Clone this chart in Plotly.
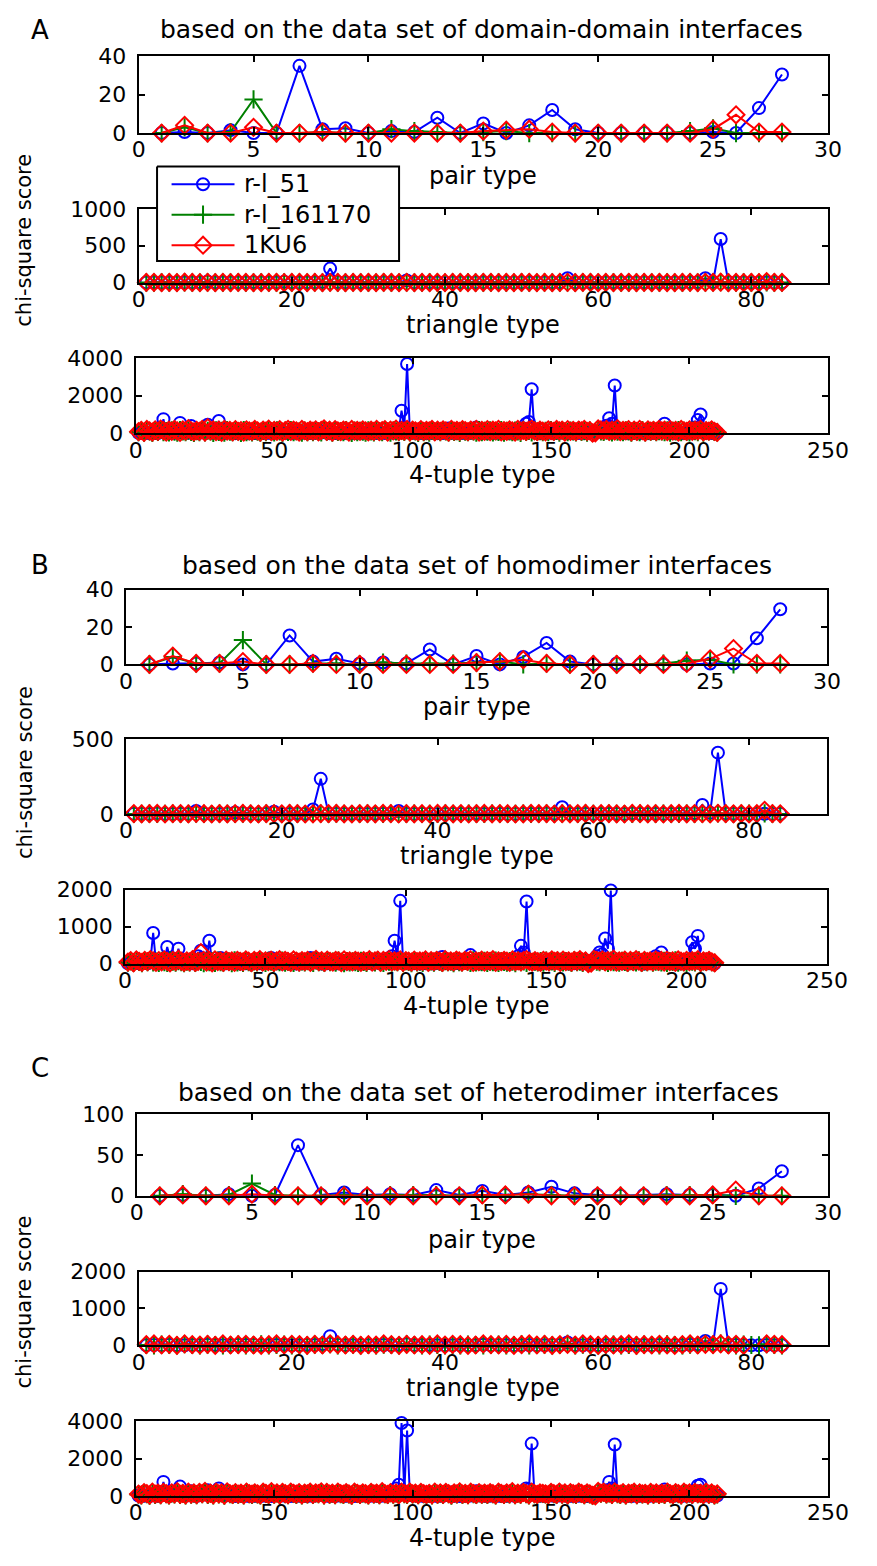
import plotly.graph_objects as go

W, H = 877, 1566

# ---------------- data ----------------
series_names = ["r-l_51", "r-l_161170", "1KU6"]
panel_letters = ["A", "B", "C"]
panel_titles = ["based on the data set of domain-domain interfaces",
                "based on the data set of homodimer interfaces",
                "based on the data set of heterodimer interfaces"]
xlabels = ["pair type", "triangle type", "4-tuple type"]
ytitle = "chi-square score"

pair_x = list(range(1, 29))
tri_x = list(range(1, 85))
quad_x = list(range(1, 211))

pair_xticks = [0, 5, 10, 15, 20, 25, 30]
tri_xticks = [0, 20, 40, 60, 80]
quad_xticks = [0, 50, 100, 150, 200, 250]

# pair type (28)
pair_blue_A = [0, 0.5, 0, 1.5, 0, 0, 35, 2, 2.5, 0, 1, 0.5, 8, 0, 5, 0, 4, 12, 2, 0, 0, 0, 0, 0, 0.5, 0, 13, 30.5]
pair_green_A = [0, 3, 0, 0.5, 17.5, 0, 0, 0.5, 0, 0, 2, 1, 0.5, 0, 0.5, 1, 0, 0, 0, 0, 0, 0, 0, 1, 2.5, 0, 0, 0]
pair_red_A = [0, 4, 0, 0, 3, 0, 0, 0.5, 0, 0, 0, 0, 0, 0, 1, 1.5, 2, 0.5, 0, 0, 0, 0, 0, 0, 2, 9.5, 0.5, 0.5]

pair_blue_B = [0, 0.5, 0.5, 1, 0, 0, 15.5, 1.5, 3, 0.5, 1, 0.5, 8, 0, 4.5, 0, 4, 11.5, 1.5, 0, 0.5, 0, 0, 0, 0.5, 0.5, 14, 29.5]
pair_green_B = [0, 4, 0.5, 0.5, 13, 0, 0, 0.5, 0.5, 0, 1, 0.5, 0.5, 0.5, 1, 1.5, 0, 0.5, 0, 0, 0, 0, 0.5, 2, 2.5, 0, 0, 0]
pair_red_B = [0, 4.5, 0.5, 0.5, 1.5, 0, 0, 0.5, 0, 0, 0, 0, 0, 0, 1, 1.5, 2.5, 0.5, 0, 0, 0, 0, 0, 0.5, 3, 8.5, 0.5, 0.5]

pair_blue_C = [0, 1, 0, 2, 0, 1, 62, 1, 4, 1, 2, 1, 7, 1, 6, 1, 4, 11, 3, 1, 0, 1, 2, 1, 1, 0, 9, 30]
pair_green_C = [0, 2, 0, 1, 15, 1, 0, 0, 1, 0, 1, 1, 1, 0, 1, 1, 2, 1, 0, 0, 0, 0, 1, 1, 1, 0, 0, 0]
pair_red_C = [0, 1, 0, 0, 2, 0, 0, 0, 0, 0, 0, 0, 0, 0, 1, 1, 2, 0, 0, 0, 0, 0, 0, 0, 1, 7, 0, 0]

# triangle type (84)
tri_blue_A = [2, 1, 0, 3, 1, 0, 2, 1, 15, 2, 1, 0, 3, 2, 5, 1, 0, 2, 12, 1,
              0, 3, 2, 8, 190, 4, 1, 0, 2, 1, 0, 2, 1, 3, 30, 1, 0, 2, 1, 0,
              1, 2, 0, 1, 3, 0, 2, 1, 0, 1, 2, 0, 1, 3, 2, 60, 1, 0, 2, 1,
              0, 1, 2, 0, 3, 1, 0, 2, 1, 0, 1, 3, 5, 60, 8, 590, 4, 2, 1, 0,
              1, 2, 0, 1]
tri_green_A = [1, 0, 2, 1, 0, 3, 1, 0, 2, 1, 0, 1, 2, 0, 1, 3, 0, 1, 2, 0,
               1, 0, 2, 1, 3, 0, 1, 2, 0, 1, 0, 2, 1, 0, 3, 1, 0, 2, 1, 0,
               1, 0, 2, 1, 0, 1, 2, 0, 1, 3, 0, 1, 2, 0, 1, 4, 0, 2, 1, 0,
               1, 2, 0, 1, 0, 2, 1, 0, 3, 1, 0, 2, 1, 4, 2, 5, 1, 0, 2, 1,
               0, 3, 1, 0]
tri_red_A = [2, 4, 1, 3, 0, 5, 2, 1, 3, 0, 4, 1, 2, 3, 1, 0, 2, 4, 1, 3,
             2, 0, 3, 1, 4, 2, 1, 3, 0, 2, 1, 4, 2, 0, 3, 1, 2, 0, 4, 1,
             3, 2, 0, 1, 4, 2, 1, 3, 0, 2, 4, 1, 3, 0, 2, 3, 1, 4, 2, 0,
             3, 1, 2, 4, 0, 2, 1, 3, 1, 0, 2, 4, 1, 3, 2, 5, 1, 3, 0, 2,
             1, 15, 4, 2]

tri_blue_B = [1, 2, 0, 3, 1, 0, 2, 1, 20, 2, 1, 0, 3, 10, 5, 1, 0, 2, 15, 1,
              0, 3, 2, 30, 235, 4, 1, 0, 2, 1, 0, 2, 1, 3, 20, 1, 0, 2, 1, 0,
              1, 2, 0, 1, 3, 0, 2, 1, 0, 1, 2, 0, 1, 3, 2, 45, 1, 0, 2, 1,
              0, 1, 2, 0, 3, 1, 0, 2, 1, 0, 1, 3, 5, 60, 8, 410, 4, 2, 1, 0,
              1, 2, 0, 1]
tri_green_B = [0, 1, 2, 0, 1, 3, 0, 1, 2, 1, 0, 2, 1, 0, 3, 1, 0, 2, 1, 0,
               2, 1, 0, 1, 3, 0, 2, 1, 0, 1, 2, 0, 1, 3, 0, 1, 2, 0, 1, 0,
               2, 1, 0, 3, 1, 0, 2, 1, 0, 1, 3, 0, 1, 2, 0, 3, 1, 0, 2, 1,
               0, 2, 1, 0, 1, 3, 0, 1, 2, 0, 1, 2, 0, 3, 1, 4, 2, 0, 1, 2,
               0, 4, 1, 0]
tri_red_B = [3, 1, 2, 4, 0, 2, 3, 1, 4, 2, 0, 3, 1, 2, 4, 1, 0, 3, 2, 1,
             4, 2, 0, 1, 3, 2, 4, 1, 0, 2, 3, 1, 4, 2, 0, 3, 1, 2, 0, 4,
             2, 1, 3, 0, 2, 4, 1, 3, 2, 0, 1, 4, 2, 3, 0, 2, 1, 3, 4, 0,
             2, 3, 1, 0, 4, 2, 1, 3, 0, 2, 4, 1, 3, 2, 0, 5, 2, 1, 3, 0,
             2, 25, 3, 1]

tri_blue_C = [5, 10, 0, 15, 5, 0, 10, 5, 20, 10, 5, 0, 15, 10, 20, 5, 0, 10, 15, 5,
              0, 15, 10, 30, 250, 20, 5, 0, 10, 5, 0, 10, 5, 15, 30, 5, 0, 10, 5, 0,
              5, 10, 0, 5, 15, 0, 10, 5, 0, 5, 10, 0, 5, 15, 10, 80, 5, 0, 10, 5,
              0, 5, 10, 0, 15, 5, 0, 10, 5, 0, 5, 15, 25, 120, 30, 1530, 20, 10, 5, 0,
              5, 10, 0, 5]
tri_green_C = [10, 0, 20, 10, 0, 30, 10, 0, 20, 10, 0, 10, 20, 0, 10, 30, 0, 10, 20, 0,
               10, 0, 20, 10, 30, 0, 10, 20, 0, 10, 0, 20, 10, 0, 30, 10, 0, 20, 10, 0,
               10, 0, 20, 10, 0, 10, 20, 0, 10, 30, 0, 10, 20, 0, 10, 40, 0, 20, 10, 0,
               10, 20, 0, 10, 0, 20, 10, 0, 30, 10, 0, 20, 10, 40, 20, 50, 10, 0, 20, 10,
               0, 30, 10, 0]
tri_red_C = [20, 40, 10, 30, 0, 40, 20, 10, 30, 0, 40, 10, 20, 30, 10, 0, 20, 40, 10, 30,
             20, 0, 30, 10, 40, 20, 10, 30, 0, 20, 10, 40, 20, 0, 30, 10, 20, 0, 40, 10,
             30, 20, 0, 10, 40, 20, 10, 30, 0, 20, 40, 10, 30, 0, 20, 30, 10, 40, 20, 0,
             30, 10, 20, 40, 0, 20, 10, 30, 10, 0, 20, 40, 10, 30, 20, 40, 10, 30, 0, None,
             None, 40, 30, 20]

# 4-tuple type (210)
quad_blue_A = [20, 40, 10, 30, 0, 50, 20, 10, 60, 750, 30, 10, 40, 20, 80, 550, 30, 60, 20, 380, 40,
               10, 30, 50, 120, 450, 60, 20, 90, 650, 40, 10, 30, 100, 20, 0, 30, 10, 40, 20, 0, 30,
               10, 20, 0, 40, 10, 30, 0, 20, 40, 100, 20, 10, 30, 0, 20, 40, 10, 60, 20, 0, 30,
               10, 40, 150, 30, 100, 20, 0, 30, 10, 20, 40, 0, 20, 10, 30, 0, 20, 10, 40, 20, 0,
               30, 10, 20, 0, 40, 10, 30, 60, 20, 80, 150, 1200, 300, 3700, 60, 20, 40, 10, 30, 0, 20,
               10, 40, 20, 0, 30, 10, 60, 250, 40, 10, 20, 0, 30, 10, 40, 20, 80, 300, 30, 10, 20,
               0, 30, 10, 40, 20, 0, 30, 10, 20, 40, 10, 60, 150, 250, 500, 600, 2350, 80, 20, 10, 30,
               0, 20, 40, 10, 30, 20, 100, 30, 10, 20, 0, 40, 10, 30, 20, 0, 40, 60, 20, 80, 150,
               250, 400, 800, 500, 2550, 60, 20, 40, 10, 30, 0, 20, 40, 10, 30, 20, 0, 40, 10, 60, 150,
               200, 500, 80, 30, 10, 40, 20, 0, 30, 10, 40, 20, 300, 700, 1000, 60, 20, 40, 10, 30, 20]
quad_green_A = [50, 120, 30, 160, 90, 20, 140, 70, 180, 60, 110, 40, 150, 80, 30, 170, 100, 50, 130, 70, 20,
                110, 60, 170, 40, 130, 90, 20, 150, 70, 120, 30, 160, 80, 50, 140, 100, 20, 170, 60, 110, 40,
                140, 80, 30, 120, 60, 170, 90, 40, 150, 100, 20, 130, 70, 160, 50, 110, 80, 30, 140, 60, 120,
                60, 130, 100, 40, 170, 80, 120, 30, 150, 70, 110, 50, 160, 90, 20, 140, 60, 120, 80, 30, 150,
                90, 40, 150, 110, 60, 170, 80, 30, 140, 100, 50, 120, 70, 160, 40, 130, 90, 20, 150, 60, 110,
                30, 140, 80, 120, 50, 160, 90, 40, 130, 70, 110, 20, 150, 80, 60, 140, 100, 30, 170, 60, 120,
                80, 150, 40, 110, 70, 160, 30, 130, 90, 50, 140, 100, 20, 160, 70, 120, 40, 150, 80, 110, 60,
                130, 50, 160, 80, 120, 30, 150, 90, 60, 140, 100, 40, 170, 70, 110, 30, 140, 20, 60, 180, 100,
                70, 140, 110, 40, 160, 80, 120, 50, 150, 90, 30, 130, 100, 60, 170, 40, 120, 80, 140, 50, 110,
                100, 60, 150, 30, 130, 90, 170, 50, 120, 80, 40, 140, 110, 60, 160, 30, 120, 90, 150, 70, 40]
quad_red_A = [80, 150, 40, 200, 120, 60, 180, 100, 220, 140, 60, 160, 90, 200, 120, 40, 180, 110, 250, 130, 70,
              150, 90, 210, 60, 300, 120, 180, 80, 160, 40, 200, 110, 150, 70, 190, 100, 140, 60, 180, 120, 90,
              200, 130, 50, 170, 110, 220, 80, 150, 100, 190, 60, 140, 210, 90, 170, 120, 60, 200, 130, 80, 160,
              110, 180, 70, 150, 230, 100, 160, 60, 190, 120, 80, 170, 140, 50, 200, 110, 150, 90, 180, 130, 70,
              160, 100, 210, 80, 140, 190, 60, 170, 120, 220, 90, 150, 110, 200, 70, 160, 130, 80, 190, 100, 150,
              120, 200, 70, 160, 100, 180, 130, 60, 210, 110, 150, 90, 190, 140, 80, 170, 120, 200, 60, 150, 100,
              190, 80, 160, 120, 210, 70, 140, 100, 180, 130, 60, 200, 110, 150, 90, 170, 220, 120, 80, 160, 110,
              70, 180, 130, 90, 200, 120, 160, 60, 190, 100, 150, 80, 170, 120, 210, 90, 140, 0, 20, 230, 180,
              130, 200, 90, 160, 110, 240, 80, 150, 120, 190, 70, 170, 100, 210, 130, 60, 180, 110, 150, 90, 200,
              120, 170, 80, 190, 110, 150, 60, 200, 130, 90, 180, 100, 160, 120, 210, 70, 140, 110, 180, 90, 40]

quad_blue_B = [10, 30, 50, 20, 10, 40, 20, 10, 60, 830, 40, 20, 30, 80, 450, 150, 40, 120, 400, 60, 30,
               20, 40, 10, 80, 200, 350, 60, 120, 620, 50, 20, 40, 150, 30, 10, 20, 40, 10, 30, 0, 20,
               10, 30, 0, 20, 40, 10, 30, 20, 60, 150, 30, 10, 20, 0, 30, 10, 40, 20, 0, 30, 10,
               20, 60, 150, 40, 120, 20, 0, 30, 10, 20, 40, 0, 30, 10, 20, 0, 40, 10, 20, 30, 0,
               20, 10, 30, 0, 20, 40, 10, 30, 100, 60, 200, 620, 150, 1700, 60, 20, 30, 50, 10, 20, 0,
               30, 10, 20, 40, 0, 20, 60, 180, 30, 10, 20, 0, 40, 10, 30, 20, 80, 230, 40, 10, 20,
               0, 30, 10, 20, 40, 0, 20, 10, 30, 20, 0, 60, 100, 200, 480, 300, 1680, 60, 20, 10, 30,
               0, 20, 30, 10, 20, 40, 100, 20, 10, 30, 0, 20, 10, 40, 20, 0, 30, 60, 20, 100, 200,
               300, 250, 680, 400, 1980, 60, 20, 30, 10, 20, 0, 30, 10, 20, 40, 10, 0, 30, 60, 100, 200,
               150, 300, 60, 20, 10, 30, 20, 0, 40, 10, 20, 100, 580, 400, 750, 60, 20, 30, 10, 20, 0]
quad_green_B = [25, 60, 15, 80, 45, 10, 70, 35, 90, 30, 55, 20, 75, 40, 15, 85, 50, 25, 65, 35, 10,
                55, 30, 85, 20, 65, 45, 10, 75, 35, 60, 15, 80, 40, 25, 70, 50, 10, 85, 30, 55, 20,
                70, 40, 15, 60, 30, 85, 45, 20, 75, 50, 10, 65, 35, 80, 25, 55, 40, 15, 70, 30, 60,
                30, 65, 50, 20, 85, 40, 60, 15, 75, 35, 55, 25, 80, 45, 10, 70, 30, 60, 40, 15, 75,
                45, 20, 75, 55, 30, 85, 40, 15, 70, 50, 25, 60, 35, 80, 20, 65, 45, 10, 75, 30, 55,
                15, 70, 40, 60, 25, 80, 45, 20, 65, 35, 55, 10, 75, 40, 30, 70, 50, 15, 85, 30, 60,
                40, 75, 20, 55, 35, 80, 15, 65, 45, 25, 70, 50, 10, 80, 35, 60, 20, 75, 40, 55, 30,
                65, 25, 80, 40, 60, 15, 75, 45, 30, 70, 50, 20, 85, 35, 55, 15, 70, 10, 30, 90, 50,
                35, 70, 55, 20, 80, 40, 60, 25, 75, 45, 15, 65, 50, 30, 85, 20, 60, 40, 70, 25, 55,
                50, 30, 75, 15, 65, 45, 85, 25, 60, 40, 20, 70, 55, 30, 80, 15, 60, 45, 75, 35, 20]
quad_red_B = [40, 80, 20, 100, 60, 30, 90, 50, 110, 70, 30, 80, 45, 100, 60, 20, 90, 55, 120, 65, 35,
              75, 45, 105, 30, 60, 300, 90, 40, 80, 20, 100, 55, 75, 35, 95, 50, 70, 30, 90, 60, 45,
              100, 65, 25, 85, 55, 110, 40, 75, 50, 95, 30, 70, 105, 45, 85, 60, 30, 100, 65, 40, 80,
              55, 90, 35, 75, 115, 50, 80, 30, 95, 60, 40, 85, 70, 25, 100, 55, 75, 45, 90, 65, 35,
              80, 50, 105, 40, 70, 95, 30, 85, 60, 110, 45, 75, 55, 100, 35, 80, 65, 40, 95, 50, 75,
              60, 100, 35, 80, 50, 90, 65, 30, 105, 55, 75, 45, 95, 70, 40, 85, 60, 100, 30, 75, 50,
              95, 40, 80, 60, 105, 35, 70, 50, 90, 65, 30, 100, 55, 75, 45, 85, 110, 60, 40, 80, 55,
              35, 90, 65, 45, 100, 60, 80, 30, 95, 50, 75, 40, 85, 60, 105, 45, 70, 0, 10, 115, 90,
              65, 100, 45, 80, 55, 120, 40, 75, 60, 95, 35, 85, 50, 105, 65, 30, 90, 55, 75, 45, 100,
              60, 85, 40, 95, 55, 75, 30, 100, 65, 45, 90, 50, 80, 60, 105, 35, 70, 55, 90, 45, 20]

quad_blue_C = [20, 40, 10, 30, 0, 60, 20, 10, 80, 750, 40, 10, 30, 60, 150, 500, 40, 80, 30, 250, 20,
               10, 30, 60, 100, 300, 80, 40, 120, 400, 60, 20, 40, 80, 20, 0, 30, 10, 40, 20, 0, 30,
               10, 20, 0, 40, 10, 30, 0, 20, 60, 200, 40, 10, 30, 0, 20, 40, 10, 100, 20, 0, 30,
               10, 40, 150, 60, 150, 20, 0, 30, 10, 20, 40, 0, 20, 10, 30, 0, 20, 10, 40, 20, 0,
               30, 10, 20, 0, 40, 10, 30, 60, 150, 400, 600, 3900, 200, 3500, 80, 20, 40, 10, 30, 0, 20,
               10, 40, 20, 0, 30, 10, 60, 200, 40, 10, 20, 0, 30, 10, 40, 20, 80, 250, 30, 10, 20,
               0, 30, 10, 40, 20, 0, 30, 10, 20, 40, 10, 60, 100, 200, 400, 350, 2800, 80, 20, 10, 30,
               0, 20, 40, 10, 30, 20, 60, 30, 10, 20, 0, 40, 10, 30, 20, 0, 40, 60, 20, 80, 150,
               200, 300, 750, 400, 2750, 60, 20, 40, 10, 30, 0, 20, 40, 10, 30, 20, 0, 40, 10, 60, 100,
               150, 350, 80, 30, 10, 40, 20, 0, 30, 10, 40, 20, 200, 550, 600, 60, 20, 40, 10, 30, 20]
quad_green_C = [70, 30, 150, 100, 20, 170, 60, 130, 40, 160, 90, 30, 140, 80, 190, 50, 120, 30, 170, 70, 130,
                40, 160, 90, 200, 60, 120, 30, 170, 80, 140, 20, 180, 100, 50, 150, 70, 120, 30, 180, 90, 60,
                140, 80, 30, 170, 110, 50, 190, 70, 130, 20, 160, 90, 40, 180, 110, 60, 150, 30, 120, 80, 170,
                50, 130, 90, 180, 30, 160, 70, 120, 40, 180, 100, 60, 150, 80, 20, 170, 110, 50, 140, 90, 30,
                160, 80, 120, 40, 190, 90, 50, 150, 70, 130, 30, 170, 100, 60, 180, 80, 120, 40, 160, 90, 50,
                110, 30, 180, 70, 140, 50, 160, 90, 20, 130, 80, 190, 60, 110, 40, 170, 100, 50, 150, 70, 120,
                60, 150, 90, 30, 170, 110, 50, 140, 80, 190, 40, 120, 70, 160, 100, 30, 180, 90, 50, 130, 110,
                80, 40, 160, 100, 50, 180, 70, 130, 30, 150, 90, 60, 170, 110, 40, 140, 80, 20, 60, 200, 120,
                170, 80, 130, 50, 190, 100, 60, 150, 30, 120, 90, 170, 40, 140, 80, 110, 30, 160, 70, 130, 50,
                120, 60, 180, 90, 40, 150, 100, 30, 170, 80, 130, 50, 160, 90, 110, 40, 180, 70, 130, 30, 80]
quad_red_C = [100, 60, 180, 130, 40, 210, 90, 150, 70, 190, 120, 50, 170, 110, 230, 80, 140, 60, 200, 100, 160,
              70, 190, 120, 250, 90, 150, 60, 200, 110, 170, 40, 220, 130, 80, 180, 100, 150, 60, 210, 120, 90,
              170, 110, 60, 200, 140, 80, 230, 100, 160, 50, 190, 120, 70, 210, 140, 90, 180, 60, 150, 110, 200,
              80, 160, 120, 220, 60, 190, 100, 150, 70, 210, 130, 90, 180, 110, 40, 200, 140, 80, 170, 120, 60,
              190, 110, 150, 70, 230, 120, 80, 180, 100, 160, 60, 200, 130, 90, 210, 110, 150, 70, 190, 120, 80,
              140, 60, 210, 100, 170, 80, 190, 120, 50, 160, 110, 220, 90, 140, 70, 200, 130, 80, 180, 100, 150,
              90, 180, 120, 60, 200, 140, 80, 170, 110, 230, 70, 150, 100, 190, 130, 60, 210, 120, 80, 160, 140,
              110, 70, 190, 130, 80, 210, 100, 160, 60, 180, 120, 90, 200, 140, 70, 170, 110, 30, 0, 240, 150,
              200, 110, 160, 80, 220, 130, 90, 180, 60, 150, 120, 200, 70, 170, 110, 140, 60, 190, 100, 160, 80,
              150, 90, 210, 120, 70, 180, 130, 60, 200, 110, 160, 80, 190, 120, 140, 70, 210, 100, 160, 60, 110]

# ---------------- layout geometry (pixels) ----------------
FONT = "DejaVu Sans"
BLUE, GREEN, RED = "#0000ff", "#008000", "#ff0000"
colors = [BLUE, GREEN, RED]

# (left, right, top, bottom) of each plot box
boxes = [
    [(136, 848, 45, 123), (136, 848, 200, 275), (133, 848, 352, 428)],
    [(123, 847, 587, 663), (123, 847, 739, 815), (122, 847, 892, 967)],
    [(134, 848, 1120, 1203), (136, 848, 1280, 1355), (133, 848, 1432, 1508)],
]
yranges = [
    [([0, 40], [0, 20, 40]), ([0, 1000], [0, 500, 1000]), ([0, 4000], [0, 2000, 4000])],
    [([0, 40], [0, 20, 40]), ([0, 500], [0, 500]), ([0, 2000], [0, 1000, 2000])],
    [([0, 100], [0, 50, 100]), ([0, 2000], [0, 1000, 2000]), ([0, 4000], [0, 2000, 4000])],
]
xspecs = [(pair_x, [0, 30], pair_xticks), (tri_x, [0, 90], tri_xticks), (quad_x, [0, 250], quad_xticks)]

data = [
    [(pair_blue_A, pair_green_A, pair_red_A), (tri_blue_A, tri_green_A, tri_red_A), (quad_blue_A, quad_green_A, quad_red_A)],
    [(pair_blue_B, pair_green_B, pair_red_B), (tri_blue_B, tri_green_B, tri_red_B), (quad_blue_B, quad_green_B, quad_red_B)],
    [(pair_blue_C, pair_green_C, pair_red_C), (tri_blue_C, tri_green_C, tri_red_C), (quad_blue_C, quad_green_C, quad_red_C)],
]

label_y = [[167, 318, 471], [706, 858, 1010], [1248, 1398, 1551]]
title_y = [18, 562, 1098]
title_x = [490, 485, 487]
letter_y = [18, 562, 1073]
ytitle_y = [232, 773, 1311]

# hand-drawn legend box geometry (px)
leg_left, leg_top, leg_right, leg_bottom = 155, 157, 405, 253
leg_rows = [175, 206, 237]
leg_line = (170, 235)
leg_text_x = 243

fig = go.Figure()
tick_font = dict(family=FONT, size=22, color="black")
label_font = dict(family=FONT, size=24, color="black")

def marker_style(k, size_scale=1.0):
    base = [
        dict(symbol="circle-open", size=12),
        dict(symbol="cross-thin-open", size=13),
        dict(symbol="diamond-open", size=13),
    ][k]
    return dict(symbol=base["symbol"], size=base["size"] * size_scale, color=colors[k],
                line=dict(width=2, color=colors[k]))

annotations = []
idx = 0
for p in range(3):
    for s in range(3):
        idx += 1
        xname = "x" if idx == 1 else f"x{idx}"
        yname = "y" if idx == 1 else f"y{idx}"
        l, r, t, b = boxes[p][s]
        xs, xr, xt = xspecs[s]
        yr, yt = yranges[p][s]
        common = dict(showline=True, linecolor="black", linewidth=2, mirror="ticks",
                      ticks="inside", ticklen=6, tickwidth=2, tickcolor="black",
                      showgrid=False, zeroline=False, tickfont=tick_font, fixedrange=True)
        fig.layout["xaxis" if idx == 1 else f"xaxis{idx}"] = dict(
            domain=[l / W, r / W], anchor=yname, range=xr, tickvals=xt,
            ticklabelstandoff=-4, **common)
        fig.layout["yaxis" if idx == 1 else f"yaxis{idx}"] = dict(
            domain=[1 - b / H, 1 - t / H], anchor=xname, range=yr, tickvals=yt,
            ticklabelstandoff=6, **common)
        for k in range(3):
            fig.add_trace(go.Scatter(
                x=xs, y=data[p][s][k], mode="lines+markers", name=series_names[k],
                line=dict(color=colors[k], width=2), marker=marker_style(k),
                xaxis=xname, yaxis=yname, cliponaxis=False, connectgaps=False,
                showlegend=False, hoverinfo="skip"))
        annotations.append(dict(text=xlabels[s], x=(l + r) / 2 / W, y=1 - label_y[p][s] / H,
                                xref="paper", yref="paper", showarrow=False,
                                font=label_font, xanchor="center", yanchor="middle"))
    annotations.append(dict(text=panel_titles[p], x=title_x[p] / W, y=1 - title_y[p] / H,
                            xref="paper", yref="paper", showarrow=False,
                            font=dict(family=FONT, size=25, color="black"),
                            xanchor="center", yanchor="middle"))
    annotations.append(dict(text=panel_letters[p], x=34 / W, y=1 - letter_y[p] / H,
                            xref="paper", yref="paper", showarrow=False,
                            font=dict(family=FONT, size=26, color="black"),
                            xanchor="center", yanchor="middle"))
    annotations.append(dict(text=ytitle, x=18 / W, y=1 - ytitle_y[p] / H,
                            xref="paper", yref="paper", showarrow=False, textangle=-90,
                            font=dict(family=FONT, size=21, color="black"),
                            xanchor="center", yanchor="middle"))

# ---- legend (drawn on a page-sized hidden overlay axis, on top of panel A) ----
fig.layout["xaxis10"] = dict(domain=[0, 1], range=[0, W], visible=False, fixedrange=True, anchor="y10")
fig.layout["yaxis10"] = dict(domain=[0, 1], range=[H, 0], visible=False, fixedrange=True, anchor="x10")
fig.add_trace(go.Scatter(
    x=[leg_left, leg_right, leg_right, leg_left, leg_left],
    y=[leg_top, leg_top, leg_bottom, leg_bottom, leg_top],
    mode="lines", fill="toself", fillcolor="white", line=dict(color="black", width=2),
    xaxis="x10", yaxis="y10", showlegend=False, hoverinfo="skip", cliponaxis=False))
for k in range(3):
    fig.add_trace(go.Scatter(
        x=list(leg_line), y=[leg_rows[k], leg_rows[k]], mode="lines",
        line=dict(color=colors[k], width=2),
        xaxis="x10", yaxis="y10", showlegend=False, hoverinfo="skip", cliponaxis=False))
    fig.add_trace(go.Scatter(
        x=[(leg_line[0] + leg_line[1]) / 2], y=[leg_rows[k]], mode="markers",
        marker=marker_style(k),
        xaxis="x10", yaxis="y10", showlegend=False, hoverinfo="skip", cliponaxis=False))
    annotations.append(dict(text=series_names[k], x=leg_text_x / W, y=1 - leg_rows[k] / H,
                            xref="paper", yref="paper", showarrow=False,
                            font=dict(family=FONT, size=24, color="black"),
                            xanchor="left", yanchor="middle"))

fig.update_layout(
    width=W, height=H, autosize=False,
    margin=dict(l=0, r=0, t=0, b=0),
    paper_bgcolor="white", plot_bgcolor="rgba(0,0,0,0)",
    annotations=annotations,
    showlegend=False,
)

fig.write_html("out.html")
